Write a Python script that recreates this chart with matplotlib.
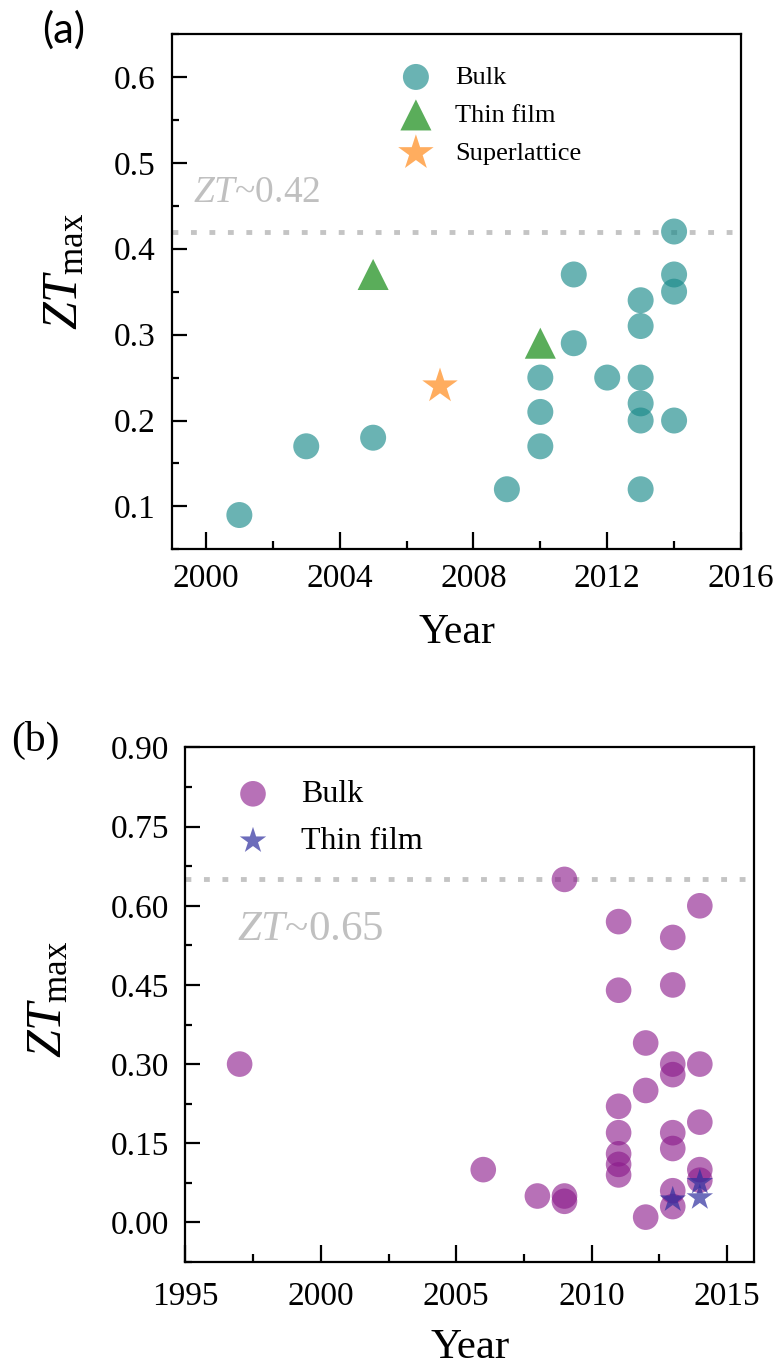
import matplotlib
matplotlib.use('Agg')
import matplotlib.pyplot as plt
from matplotlib.ticker import MultipleLocator, FormatStrFormatter

plt.rcParams['font.family'] = ['Liberation Serif', 'DejaVu Serif']
plt.rcParams['mathtext.fontset'] = 'custom'
plt.rcParams['mathtext.rm'] = 'Liberation Serif'
plt.rcParams['mathtext.it'] = 'Liberation Serif:italic'

# (a) data
a_bulk_year = [2001, 2003, 2005, 2009, 2010, 2010, 2010, 2011, 2011, 2012,
               2013, 2013, 2013, 2013, 2013, 2013, 2014, 2014, 2014, 2014]
a_bulk_zt = [0.09, 0.17, 0.18, 0.12, 0.25, 0.21, 0.17, 0.37, 0.29, 0.25,
             0.34, 0.31, 0.25, 0.22, 0.20, 0.12, 0.42, 0.37, 0.35, 0.20]
a_film_year = [2005, 2010]
a_film_zt = [0.37, 0.29]
a_sl_year = [2007]
a_sl_zt = [0.24]
a_ref = 0.42

# (b) data
b_bulk_year = [1997, 2006, 2008, 2009, 2009, 2009,
               2011, 2011, 2011, 2011, 2011, 2011, 2011,
               2012, 2012, 2012,
               2013, 2013, 2013, 2013, 2013, 2013, 2013, 2013,
               2014, 2014, 2014, 2014, 2014]
b_bulk_zt = [0.30, 0.10, 0.05, 0.65, 0.05, 0.04,
             0.57, 0.44, 0.22, 0.17, 0.13, 0.11, 0.09,
             0.34, 0.25, 0.01,
             0.54, 0.45, 0.30, 0.28, 0.17, 0.14, 0.06, 0.03,
             0.60, 0.30, 0.19, 0.10, 0.08]
b_film_year = [2013, 2014, 2014]
b_film_zt = [0.043, 0.076, 0.047]
b_ref = 0.65

fig = plt.figure(figsize=(7.78, 13.68), dpi=100)
ax1 = fig.add_axes([0.2217, 0.5984, 0.7307, 0.3768])
ax2 = fig.add_axes([0.2384, 0.0775, 0.7307, 0.3761])

def style(ax, xpad, ypad):
    for s in ax.spines.values():
        s.set_linewidth(1.6)
    ax.tick_params(which='both', direction='in', top=False, right=False,
                   labelsize=24, width=1.6)
    ax.tick_params(axis='x', which='major', length=12, pad=xpad)
    ax.tick_params(axis='x', which='minor', length=6)
    ax.tick_params(axis='y', which='major', length=11, pad=ypad)
    ax.tick_params(axis='y', which='minor', length=5)

dot = (0, (1.2, 2.6))
ref_color = '#c4c4c4'

# panel (a)
ax1.scatter(a_bulk_year, a_bulk_zt, s=350, marker='o', color='#1a8a8a',
            alpha=0.65, edgecolors='none', label='Bulk', zorder=3)
ax1.scatter(a_film_year, a_film_zt, s=500, marker='^', color='#5aad5a',
            edgecolors='none', label='Thin film', zorder=3)
ax1.scatter(a_sl_year, a_sl_zt, s=720, marker='*', color='#ffad5f',
            edgecolors='none', label='Superlattice', zorder=3)
ax1.axhline(a_ref, color=ref_color, lw=3.5, ls=dot, zorder=2)
ax1.text(1999.6, 0.465, r'$ZT$~0.42', color='#c0c0c0', fontsize=27,
         va='center', ha='left')
ax1.set_xlim(1999, 2016)
ax1.set_ylim(0.05, 0.65)
ax1.xaxis.set_major_locator(MultipleLocator(4))
ax1.xaxis.set_minor_locator(MultipleLocator(2))
ax1.yaxis.set_major_locator(MultipleLocator(0.1))
ax1.yaxis.set_minor_locator(MultipleLocator(0.05))
style(ax1, 10, 12)
ax1.set_xlabel('Year', fontsize=30, labelpad=14)
ax1.set_ylabel(r'$ZT_{\mathrm{max}}$', fontsize=36)
ax1.yaxis.set_label_coords(-0.148, 0.54)
ax1.legend(loc='upper left', bbox_to_anchor=(0.34, 0.985), frameon=False,
           fontsize=19, handletextpad=0.5, labelspacing=0.55, scatterpoints=1)
fig.text(0.054, 0.978, '(a)', fontsize=30, family='Lato', ha='left',
         va='center')

# panel (b)
ax2.scatter(b_bulk_year, b_bulk_zt, s=340, marker='o', color='#8b1a8b',
            alpha=0.62, edgecolors='none', label='Bulk', zorder=3)
ax2.scatter(b_film_year, b_film_zt, s=400, marker='*', color='#2e2e9e',
            alpha=0.7, edgecolors='none', label='Thin film', zorder=4)
ax2.axhline(b_ref, color=ref_color, lw=3.5, ls=dot, zorder=2)
ax2.text(1996.9, 0.555, r'$ZT$~0.65', color='#c0c0c0', fontsize=31,
         va='center', ha='left')
ax2.set_xlim(1995, 2016)
ax2.set_ylim(-0.075, 0.9)
ax2.xaxis.set_major_locator(MultipleLocator(5))
ax2.xaxis.set_minor_locator(MultipleLocator(2.5))
ax2.yaxis.set_major_locator(MultipleLocator(0.15))
ax2.yaxis.set_minor_locator(MultipleLocator(0.075))
ax2.yaxis.set_major_formatter(FormatStrFormatter('%.2f'))
style(ax2, 14, 12)
ax2.set_xlabel('Year', fontsize=31, labelpad=12)
ax2.set_ylabel(r'$ZT_{\mathrm{max}}$', fontsize=36)
ax2.yaxis.set_label_coords(-0.2, 0.51)
ax2.legend(loc='upper left', bbox_to_anchor=(0.012, 0.993), frameon=False,
           fontsize=23, handletextpad=0.5, labelspacing=0.55, scatterpoints=1)
fig.text(0.014, 0.459, '(b)', fontsize=30, ha='left', va='center')

fig.savefig('out.png', dpi=100)
